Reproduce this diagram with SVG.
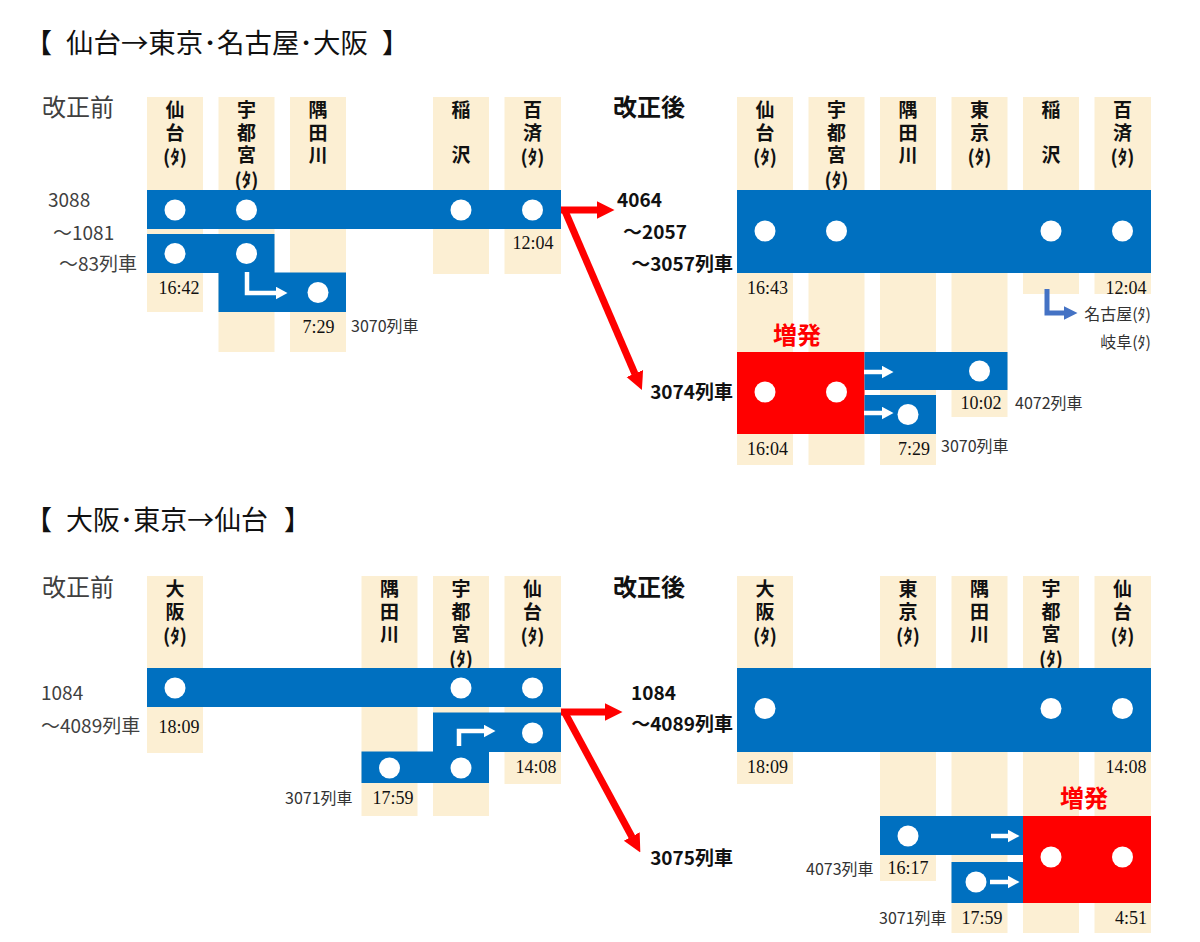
<svg xmlns="http://www.w3.org/2000/svg" width="1200" height="942" viewBox="0 0 1200 942">
<style>
.col{fill:#FCEFD3}
.bar{fill:#0070C0}
.zr{fill:#FF0000}
.dot{fill:#FFFFFF}
.vt{font-family:"Noto Sans CJK JP","Noto Sans",sans-serif;font-size:19px;font-weight:bold;fill:#111;writing-mode:vertical-rl}
.st{font-family:"Noto Sans CJK JP","Noto Sans",sans-serif;font-size:19px;font-weight:bold;fill:#111;text-anchor:middle}
.tm{font-family:"Liberation Serif",serif;font-size:18px;fill:#111;text-anchor:middle}
.lb{font-family:"Noto Sans CJK JP","Noto Sans",sans-serif;font-size:19px;fill:#404040}
.ls{font-family:"Noto Sans CJK JP","Noto Sans",sans-serif;font-size:16px;fill:#333}
.lbb{font-family:"Noto Sans CJK JP","Noto Sans",sans-serif;font-size:19px;font-weight:bold;fill:#111}
.hd{font-family:"Noto Sans CJK JP","Noto Sans",sans-serif;font-size:24px;fill:#404040}
.hdb{font-family:"Noto Sans CJK JP","Noto Sans",sans-serif;font-size:24px;font-weight:bold;fill:#111}
.zo{font-family:"Noto Sans CJK JP","Noto Sans",sans-serif;font-size:24px;font-weight:bold;fill:#FF0000;text-anchor:middle}
.ttl{font-family:"Noto Sans CJK JP","Noto Sans",sans-serif;font-size:27px;fill:#111}
.ra{fill:none;stroke:#FF0000;stroke-width:7}
.wa{fill:none;stroke:#FFFFFF;stroke-width:4.5}
.ba{fill:none;stroke:#4472C4;stroke-width:5}
</style>
<defs>
<marker id="mRed" markerUnits="userSpaceOnUse" markerWidth="18" markerHeight="20" viewBox="0 0 18 20" refX="0.5" refY="10" orient="auto"><path d="M0,1 L18,10 L0,19 Z" fill="#FF0000"/></marker>
<marker id="mWhite" markerUnits="userSpaceOnUse" markerWidth="12" markerHeight="13" viewBox="0 0 12 13" refX="0.5" refY="6.5" orient="auto"><path d="M0,0 L12,6.5 L0,13 Z" fill="#FFFFFF"/></marker>
<marker id="mBlue" markerUnits="userSpaceOnUse" markerWidth="14" markerHeight="14" viewBox="0 0 14 14" refX="0.5" refY="7" orient="auto"><path d="M0,0 L14,7 L0,14 Z" fill="#4472C4"/></marker>
</defs>
<rect width="1200" height="942" fill="#FFFFFF"/>

<!-- Titles -->
<g id="title1">
<text class="ttl" x="25" y="53">【</text>
<text class="ttl" x="66" y="53" textLength="302" lengthAdjust="spacingAndGlyphs">仙台→東京･名古屋･大阪</text>
<text class="ttl" x="382" y="53">】</text>
</g>
<g id="title2">
<text class="ttl" x="25" y="530">【</text>
<text class="ttl" x="66" y="530" textLength="202" lengthAdjust="spacingAndGlyphs">大阪･東京→仙台</text>
<text class="ttl" x="284" y="530">】</text>
</g>

<!-- ===== Top-left: before ===== -->
<g id="tl-head"><text class="hd" x="42" y="116">改正前</text></g>
<g id="tl-col-sendai"><rect class="col" x="147" y="97" width="56" height="215"/>
<text class="vt" x="175" y="100.5 123">仙台</text><text class="st" x="175" y="164">(ﾀ)</text></g>
<g id="tl-col-utsunomiya"><rect class="col" x="218.5" y="97" width="56" height="255"/>
<text class="vt" x="246.5" y="100.5 123 145.5">宇都宮</text><text class="st" x="246.5" y="186.5">(ﾀ)</text></g>
<g id="tl-col-sumidagawa"><rect class="col" x="290" y="97" width="56" height="255"/>
<text class="vt" x="318" y="100.5 123 145.5">隅田川</text></g>
<g id="tl-col-inazawa"><rect class="col" x="433" y="97" width="56" height="177"/>
<text class="vt" x="461" y="100.5 145.5">稲沢</text></g>
<g id="tl-col-kudara"><rect class="col" x="504.5" y="97" width="56.5" height="177"/>
<text class="vt" x="532.5" y="100.5 123">百済</text><text class="st" x="532.5" y="164">(ﾀ)</text></g>

<g id="tl-train-3088">
<rect class="bar" x="147" y="190" width="414" height="39"/>
<circle class="dot" cx="175" cy="210" r="10.5"/><circle class="dot" cx="246.5" cy="210" r="10.5"/><circle class="dot" cx="461" cy="210" r="10.5"/><circle class="dot" cx="532.5" cy="210" r="10.5"/>
<text class="lb" x="48" y="207">3088</text>
<text class="lb" x="53" y="240">～1081</text>
<text class="lb" x="59" y="271">～83列車</text>
<text class="tm" x="179" y="294">16:42</text>
<text class="tm" x="533" y="249">12:04</text>
</g>
<g id="tl-train-3070">
<rect class="bar" x="147" y="234" width="127.5" height="39"/>
<rect class="bar" x="218.5" y="272.5" width="127.5" height="39.5"/>
<circle class="dot" cx="175" cy="253.5" r="10.5"/><circle class="dot" cx="246.5" cy="253.5" r="10.5"/><circle class="dot" cx="318" cy="292.5" r="10.5"/>
<text class="tm" x="318.5" y="333">7:29</text>
<text class="ls" x="351" y="332">3070列車</text>
</g>

<!-- ===== Top-right: after ===== -->
<g id="tr-head"><text class="hdb" x="613" y="116">改正後</text></g>
<g id="tr-col-sendai"><rect class="col" x="737" y="97" width="56" height="368"/>
<text class="vt" x="765" y="100.5 123">仙台</text><text class="st" x="765" y="164">(ﾀ)</text></g>
<g id="tr-col-utsunomiya"><rect class="col" x="808.5" y="97" width="56" height="368"/>
<text class="vt" x="836.5" y="100.5 123 145.5">宇都宮</text><text class="st" x="836.5" y="186.5">(ﾀ)</text></g>
<g id="tr-col-sumidagawa"><rect class="col" x="880" y="97" width="56" height="368"/>
<text class="vt" x="908" y="100.5 123 145.5">隅田川</text></g>
<g id="tr-col-tokyo"><rect class="col" x="951.5" y="97" width="56" height="320"/>
<text class="vt" x="979.5" y="100.5 123">東京</text><text class="st" x="979.5" y="164">(ﾀ)</text></g>
<g id="tr-col-inazawa"><rect class="col" x="1023" y="97" width="56" height="197"/>
<text class="vt" x="1051" y="100.5 145.5">稲沢</text></g>
<g id="tr-col-kudara"><rect class="col" x="1094.5" y="97" width="56.5" height="197"/>
<text class="vt" x="1122.5" y="100.5 123">百済</text><text class="st" x="1122.5" y="164">(ﾀ)</text></g>

<g id="tr-train-4064">
<rect class="bar" x="737" y="190" width="414" height="83"/>
<circle class="dot" cx="765" cy="231" r="10.5"/><circle class="dot" cx="836.5" cy="231" r="10.5"/><circle class="dot" cx="1051" cy="231" r="10.5"/><circle class="dot" cx="1122.5" cy="231" r="10.5"/>
<text class="lbb" x="617" y="207">4064</text>
<text class="lbb" x="623" y="239">～2057</text>
<text class="lbb" x="733" y="271" text-anchor="end">～3057列車</text>
<text class="tm" x="767.5" y="294">16:43</text>
<text class="tm" x="1126" y="294">12:04</text>
<text class="ls" x="1151" y="320" text-anchor="end" fill="#444" font-size="17.5">名古屋(ﾀ)</text>
<text class="ls" x="1151" y="348" text-anchor="end" fill="#444" font-size="17.5">岐阜(ﾀ)</text>
</g>
<g id="tr-train-3074">
<rect class="zr" x="737" y="352" width="127.5" height="82"/>
<circle class="dot" cx="765" cy="392" r="10.5"/><circle class="dot" cx="836.5" cy="392" r="10.5"/>
<text class="zo" x="797" y="344">増発</text>
<text class="lbb" x="733" y="399" text-anchor="end">3074列車</text>
<text class="tm" x="767.5" y="455">16:04</text>
</g>
<g id="tr-train-4072">
<rect class="bar" x="864.5" y="352" width="143" height="38"/>
<circle class="dot" cx="979.5" cy="371" r="10.5"/>
<text class="tm" x="981" y="409">10:02</text>
<text class="ls" x="1015" y="409">4072列車</text>
</g>
<g id="tr-train-3070">
<rect class="bar" x="864.5" y="395" width="71.5" height="39"/>
<circle class="dot" cx="908" cy="414.5" r="10.5"/>
<text class="tm" x="914" y="455">7:29</text>
<text class="ls" x="941" y="452">3070列車</text>
</g>

<!-- ===== Bottom-left: before ===== -->
<g id="bl-head"><text class="hd" x="42" y="596">改正前</text></g>
<g id="bl-col-osaka"><rect class="col" x="147" y="576" width="56" height="177"/>
<text class="vt" x="175" y="579.5 602">大阪</text><text class="st" x="175" y="643">(ﾀ)</text></g>
<g id="bl-col-sumidagawa"><rect class="col" x="361.5" y="576" width="56" height="240"/>
<text class="vt" x="389.5" y="579.5 602 624.5">隅田川</text></g>
<g id="bl-col-utsunomiya"><rect class="col" x="433" y="576" width="56" height="240"/>
<text class="vt" x="461" y="579.5 602 624.5">宇都宮</text><text class="st" x="461" y="665.5">(ﾀ)</text></g>
<g id="bl-col-sendai"><rect class="col" x="504.5" y="576" width="56.5" height="208"/>
<text class="vt" x="532.5" y="579.5 602">仙台</text><text class="st" x="532.5" y="643">(ﾀ)</text></g>

<g id="bl-train-1084">
<rect class="bar" x="147" y="668" width="414" height="39"/>
<circle class="dot" cx="175" cy="688" r="10.5"/><circle class="dot" cx="461" cy="688" r="10.5"/><circle class="dot" cx="532.5" cy="688" r="10.5"/>
<text class="lb" x="41" y="700">1084</text>
<text class="lb" x="41" y="733">～4089列車</text>
<text class="tm" x="179" y="733">18:09</text>
</g>
<g id="bl-train-3071">
<rect class="bar" x="433" y="712.5" width="128" height="39.5"/>
<rect class="bar" x="361.5" y="751.5" width="127.5" height="31.5"/>
<circle class="dot" cx="532.5" cy="733" r="10.5"/><circle class="dot" cx="389.5" cy="768" r="10.5"/><circle class="dot" cx="461" cy="768" r="10.5"/>
<text class="tm" x="536" y="773">14:08</text>
<text class="ls" x="285" y="804">3071列車</text>
<text class="tm" x="393" y="804">17:59</text>
</g>

<!-- ===== Bottom-right: after ===== -->
<g id="br-head"><text class="hdb" x="613" y="596">改正後</text></g>
<g id="br-col-osaka"><rect class="col" x="737" y="576" width="56" height="208"/>
<text class="vt" x="765" y="579.5 602">大阪</text><text class="st" x="765" y="643">(ﾀ)</text></g>
<g id="br-col-tokyo"><rect class="col" x="880" y="576" width="56" height="305"/>
<text class="vt" x="908" y="579.5 602">東京</text><text class="st" x="908" y="643">(ﾀ)</text></g>
<g id="br-col-sumidagawa"><rect class="col" x="951.5" y="576" width="56" height="357"/>
<text class="vt" x="979.5" y="579.5 602 624.5">隅田川</text></g>
<g id="br-col-utsunomiya"><rect class="col" x="1023" y="576" width="56" height="357"/>
<text class="vt" x="1051" y="579.5 602 624.5">宇都宮</text><text class="st" x="1051" y="665.5">(ﾀ)</text></g>
<g id="br-col-sendai"><rect class="col" x="1094.5" y="576" width="56.5" height="357"/>
<text class="vt" x="1122.5" y="579.5 602">仙台</text><text class="st" x="1122.5" y="643">(ﾀ)</text></g>

<g id="br-train-1084">
<rect class="bar" x="737" y="668" width="414" height="84"/>
<circle class="dot" cx="765" cy="708.5" r="10.5"/><circle class="dot" cx="1051" cy="708.5" r="10.5"/><circle class="dot" cx="1122.5" cy="708.5" r="10.5"/>
<text class="lbb" x="631" y="700">1084</text>
<text class="lbb" x="733" y="731" text-anchor="end">～4089列車</text>
<text class="tm" x="767.5" y="773">18:09</text>
<text class="tm" x="1126" y="773">14:08</text>
</g>
<g id="br-train-4073">
<rect class="bar" x="880" y="816" width="143" height="39"/>
<circle class="dot" cx="908" cy="836" r="10.5"/>
<text class="ls" x="806" y="875">4073列車</text>
<text class="tm" x="908" y="874">16:17</text>
</g>
<g id="br-train-3071">
<rect class="bar" x="951.5" y="862" width="71.5" height="41"/>
<circle class="dot" cx="976" cy="882" r="10.5"/>
<text class="ls" x="879" y="924">3071列車</text>
<text class="tm" x="982" y="924">17:59</text>
</g>
<g id="br-train-3075">
<rect class="zr" x="1023" y="816" width="128" height="87"/>
<circle class="dot" cx="1051" cy="857" r="10.5"/><circle class="dot" cx="1122.5" cy="857" r="10.5"/>
<text class="zo" x="1084" y="807">増発</text>
<text class="lbb" x="733" y="865" text-anchor="end">3075列車</text>
<text class="tm" x="1131" y="924">4:51</text>
</g>

<!-- ===== Connectors ===== -->
<g id="connectors">
<path class="ra" d="M561,210 H597" marker-end="url(#mRed)"/>
<path class="ra" d="M565,211 L635,374" marker-end="url(#mRed)"/>
<path class="ra" d="M561,712 H605" marker-end="url(#mRed)"/>
<path class="ra" d="M565,713 L632,837" marker-end="url(#mRed)"/>
<path class="wa" d="M247,272 V293 H276" marker-end="url(#mWhite)"/>
<path class="wa" d="M459,746 V731 H484" marker-end="url(#mWhite)"/>
<path class="wa" d="M864,372 H882" marker-end="url(#mWhite)"/>
<path class="wa" d="M864,413 H882" marker-end="url(#mWhite)"/>
<path class="wa" d="M991,836 H1008" marker-end="url(#mWhite)"/>
<path class="wa" d="M990,882 H1008" marker-end="url(#mWhite)"/>
<path class="ba" d="M1047,289 V313 H1064" marker-end="url(#mBlue)"/>
</g>
</svg>
